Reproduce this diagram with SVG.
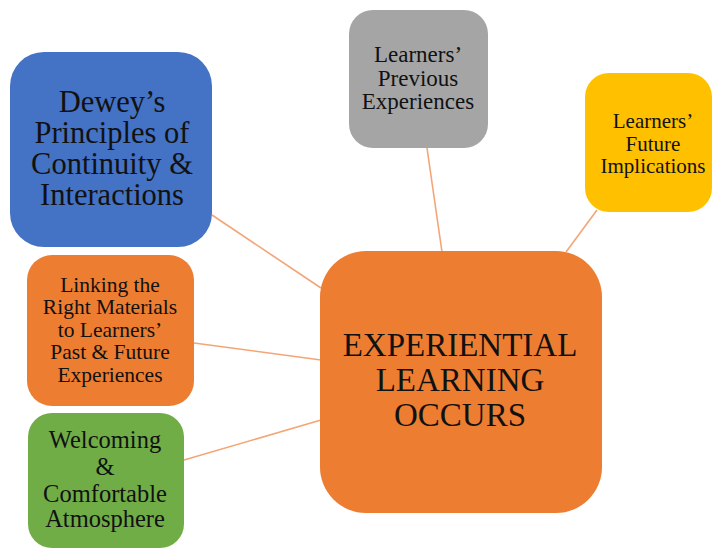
<svg xmlns="http://www.w3.org/2000/svg" width="713" height="550" viewBox="0 0 713 550">
  <style>
    .link { stroke: #F4A576; stroke-width: 1.6; fill: none; }
    .box { stroke: none; }
    .lbl { fill: #111; text-anchor: middle; }
  </style>
  <rect width="713" height="550" fill="#ffffff"/>

  <!-- connectors from the central node to each satellite -->
  <g id="connectors">
    <line class="link" x1="212" y1="215" x2="321" y2="288"/>
    <line class="link" x1="194" y1="343" x2="321" y2="360"/>
    <line class="link" x1="184" y1="460" x2="321" y2="420"/>
    <line class="link" x1="427" y1="148" x2="442" y2="252"/>
    <line class="link" x1="597" y1="210" x2="566" y2="252"/>
  </g>

  <g font-family="Liberation Serif, Tinos, Times New Roman, DejaVu Serif, serif">
  <g id="dewey">
    <rect class="box" x="10" y="52" width="202" height="195" rx="34" fill="#4472C4"/>
    <text class="lbl" font-size="30.5" x="112" y="112">Dewey’s</text>
    <text class="lbl" font-size="30.5" x="112" y="143">Principles of</text>
    <text class="lbl" font-size="30.5" x="112" y="174">Continuity &amp;</text>
    <text class="lbl" font-size="30.5" x="112" y="205">Interactions</text>
  </g>

  <g id="previous">
    <rect class="box" x="349" y="10" width="139" height="138" rx="24" fill="#A5A5A5"/>
    <text class="lbl" font-size="23" x="418" y="62">Learners’</text>
    <text class="lbl" font-size="23" x="418" y="86">Previous</text>
    <text class="lbl" font-size="23" x="418" y="109">Experiences</text>
  </g>

  <g id="future">
    <rect class="box" x="585" y="73" width="127" height="139" rx="24" fill="#FFC000"/>
    <text class="lbl" font-size="21" x="653" y="128">Learners’</text>
    <text class="lbl" font-size="21" x="653" y="151">Future</text>
    <text class="lbl" font-size="21" x="653" y="173">Implications</text>
  </g>

  <g id="linking">
    <rect class="box" x="27" y="255" width="167" height="151" rx="25" fill="#ED7D31"/>
    <text class="lbl" font-size="21.5" x="110" y="292">Linking the</text>
    <text class="lbl" font-size="21.5" x="110" y="314">Right Materials</text>
    <text class="lbl" font-size="21.5" x="110" y="337">to Learners’</text>
    <text class="lbl" font-size="21.5" x="110" y="359">Past &amp; Future</text>
    <text class="lbl" font-size="21.5" x="110" y="382">Experiences</text>
  </g>

  <g id="welcoming">
    <rect class="box" x="28" y="413" width="156" height="135" rx="24" fill="#70AD47"/>
    <text class="lbl" font-size="24.5" x="105" y="448">Welcoming</text>
    <text class="lbl" font-size="24.5" x="105" y="475">&amp;</text>
    <text class="lbl" font-size="24.5" x="105" y="502">Comfortable</text>
    <text class="lbl" font-size="24.5" x="105" y="527">Atmosphere</text>
  </g>

  <g id="experiential">
    <rect class="box" x="320" y="251" width="282" height="262" rx="46" fill="#ED7D31"/>
    <text class="lbl" font-size="33" x="460" y="356">EXPERIENTIAL</text>
    <text class="lbl" font-size="33" x="460" y="391">LEARNING</text>
    <text class="lbl" font-size="33" x="460" y="426">OCCURS</text>
  </g>
  </g>
</svg>
